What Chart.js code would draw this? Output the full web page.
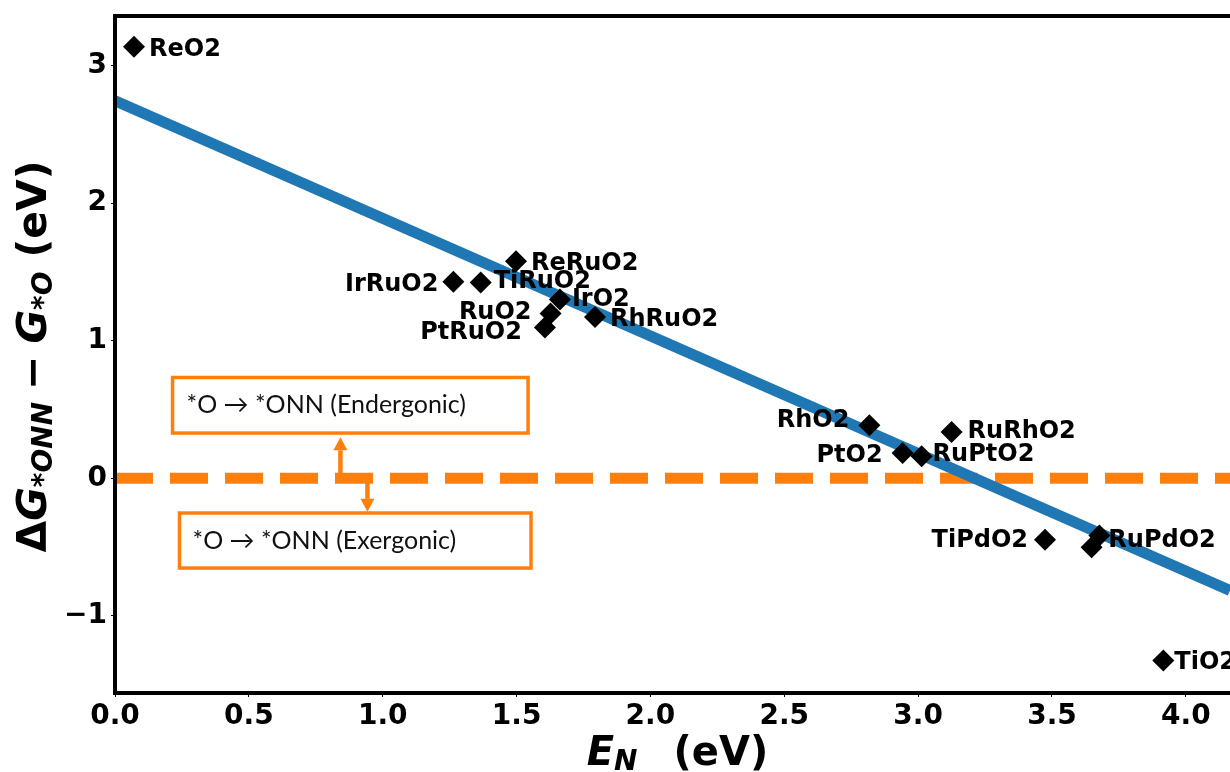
<!DOCTYPE html>
<html>
<head>
<meta charset="utf-8">
<script src="https://cdn.jsdelivr.net/npm/chart.js@4"></script>
<style>
  html, body { margin: 0; padding: 0; background: #fff; }
  #wrap { width: 1230px; height: 772px; }
</style>
</head>
<body>
<div id="wrap"><canvas id="grafico" width="1230" height="772"></canvas></div>
<script>
// dados
const materiais = ['ReO2', 'ReRuO2', 'IrRuO2', 'TiRuO2', 'IrO2', 'RuO2', 'PtRuO2', 'RhRuO2',
  'RhO2', 'RuRhO2', 'PtO2', 'RuPtO2', 'TiPdO2', 'RuPdO2', '', 'TiO2'];
const energiaN = [0.071, 1.498, 1.264, 1.366, 1.662, 1.627, 1.606, 1.793,
  2.818, 3.125, 2.942, 3.013, 3.474, 3.677, 3.648, 3.916];
const deltaG = [3.137, 1.578, 1.428, 1.423, 1.30, 1.198, 1.096, 1.173,
  0.385, 0.337, 0.184, 0.16, -0.446, -0.415, -0.50, -1.324];

const ajusteX = [0, 4.165];
const ajusteY = [2.744, -0.815];
const zeroX = [0, 4.165];
const zeroY = [0, 0];

const ticksX = [0, 0.5, 1, 1.5, 2, 2.5, 3, 3.5, 4];
const ticksY = [-1, 0, 1, 2, 3];

const notas = ['*O \u2192 *ONN (Endergonic)', '*O \u2192 *ONN (Exergonic)'];

const laranja = '#ff7f0e';
const azul = '#1f77b4';
const fonteBase = '"DejaVu Sans", sans-serif';

// posição dos rótulos em px relativo ao ponto (dx < 0: texto à esquerda)
const deslocRotulo = {
  ReO2: [15, 1], ReRuO2: [15, 0], IrRuO2: [-15, 0], TiRuO2: [13, -3], IrO2: [12, -2],
  RuO2: [-19, -3], PtRuO2: [-23, 3], RhRuO2: [15, 0], RhO2: [-20, -7], RuRhO2: [16, -3],
  PtO2: [-20, 0], RuPtO2: [11, -4], TiPdO2: [-17, -1], RuPdO2: [9, 3], TiO2: [11, 0],
};

// caixas e setas em unidades de dados
const caixas = [
  { x0: 0.215, x1: 1.543, y0: 0.733, y1: 0.329, dx: 14 },
  { x0: 0.241, x1: 1.554, y0: -0.252, y1: -0.652, dx: 13 },
];
const setas = [
  { x: 0.842, de: 0, ate: 0.298 },
  { x: 0.943, de: 0, ate: -0.243 },
];

function textoRico(ctx, partes, cx, base) {
  let total = 0;
  partes.forEach(p => {
    ctx.font = p.f;
    p.w = ctx.measureText(p.t).width + (p.gap || 0);
    total += p.w;
  });
  let pos = cx - total / 2;
  partes.forEach(p => {
    ctx.font = p.f;
    ctx.fillText(p.t, pos, base + (p.dy || 0));
    pos += p.w;
  });
}

const anotacoes = {
  id: 'anotacoes',
  beforeDatasetsDraw(chart) {
    const { ctx, scales: { x, y } } = chart;
    ctx.save();

    // caixas de texto
    caixas.forEach((c, i) => {
      const x0 = x.getPixelForValue(c.x0), x1 = x.getPixelForValue(c.x1);
      const y0 = y.getPixelForValue(c.y0), y1 = y.getPixelForValue(c.y1);
      ctx.fillStyle = '#fff';
      ctx.fillRect(x0, y0, x1 - x0, y1 - y0);
      ctx.strokeStyle = laranja;
      ctx.lineWidth = 3.5;
      ctx.strokeRect(x0, y0, x1 - x0, y1 - y0);
      ctx.fillStyle = '#111';
      ctx.font = '25px Lato, "Open Sans", sans-serif';
      ctx.textBaseline = 'middle';
      ctx.textAlign = 'left';
      ctx.fillText(notas[i], x0 + c.dx, (y0 + y1) / 2);
    });

    // setas
    setas.forEach(s => {
      const px = x.getPixelForValue(s.x);
      const p0 = y.getPixelForValue(s.de), p1 = y.getPixelForValue(s.ate);
      const dir = p1 < p0 ? 1 : -1;
      const baseCabeca = p1 + dir * 13;
      ctx.strokeStyle = laranja;
      ctx.fillStyle = laranja;
      ctx.lineWidth = 4.5;
      ctx.beginPath();
      ctx.moveTo(px, p0);
      ctx.lineTo(px, baseCabeca);
      ctx.stroke();
      ctx.beginPath();
      ctx.moveTo(px, p1);
      ctx.lineTo(px - 7, baseCabeca);
      ctx.lineTo(px + 7, baseCabeca);
      ctx.closePath();
      ctx.fill();
    });
    ctx.restore();
  },
  afterDatasetsDraw(chart) {
    const { ctx, scales: { x, y } } = chart;
    ctx.save();
    // rótulos dos pontos
    ctx.fillStyle = '#000';
    ctx.font = 'bold 24px ' + fonteBase;
    ctx.textBaseline = 'alphabetic';
    materiais.forEach((m, i) => {
      if (!m) return;
      const [dx, dy] = deslocRotulo[m] || [12, 0];
      const px = x.getPixelForValue(energiaN[i]);
      const py = y.getPixelForValue(deltaG[i]);
      ctx.textAlign = dx < 0 ? 'right' : 'left';
      ctx.fillText(m, px + dx, py + dy + 24 * 0.3645);
    });
    ctx.restore();
  },
  afterDraw(chart) {
    const { ctx, chartArea: a } = chart;
    ctx.save();
    // moldura
    ctx.strokeStyle = '#000';
    ctx.lineWidth = 4;
    ctx.beginPath();
    ctx.moveTo(a.right + 2, a.top);
    ctx.lineTo(a.left, a.top);
    ctx.lineTo(a.left, a.bottom);
    ctx.lineTo(a.right + 2, a.bottom);
    ctx.stroke();

    // títulos dos eixos
    ctx.fillStyle = '#000';
    ctx.textAlign = 'left';
    ctx.textBaseline = 'alphabetic';
    const ib = 'italic bold 41px ' + fonteBase;
    const ibs = 'italic bold 28px ' + fonteBase;
    const b = 'bold 41px ' + fonteBase;
    textoRico(ctx, [
      { t: 'E', f: 'italic bold 40px ' + fonteBase },
      { t: 'N', f: ibs, dy: 5, gap: 36 },
      { t: '(eV)', f: 'bold 40px ' + fonteBase },
    ], (a.left + a.right) / 2 + 5, 765);

    ctx.translate(46, (a.top + a.bottom) / 2 + 2);
    ctx.rotate(-Math.PI / 2);
    textoRico(ctx, [
      { t: '\u0394', f: b },
      { t: 'G', f: ib },
      { t: '*ONN', f: ibs, dy: 6, gap: 12 },
      { t: '\u2212', f: b, gap: 12 },
      { t: 'G', f: ib },
      { t: '*O', f: ibs, dy: 6, gap: 14 },
      { t: '(eV)', f: b },
    ], 0, 0);
    ctx.restore();
  }
};

const fonteTick = { family: fonteBase, weight: 'bold', size: 28 };

new Chart(document.getElementById('grafico'), {
  type: 'scatter',
  data: {
    datasets: [
      {
        label: 'materiais',
        data: energiaN.map((v, i) => ({ x: v, y: deltaG[i] })),
        pointStyle: 'rectRot',
        pointRadius: 11,
        pointHoverRadius: 11,
        backgroundColor: '#000',
        borderColor: '#000',
        borderWidth: 0,
        order: 0,
      },
      {
        type: 'line',
        label: 'ajuste',
        data: ajusteX.map((v, i) => ({ x: v, y: ajusteY[i] })),
        borderColor: azul,
        borderWidth: 11,
        borderCapStyle: 'butt',
        pointRadius: 0,
        fill: false,
        order: 1,
      },
      {
        type: 'line',
        label: 'zero',
        data: zeroX.map((v, i) => ({ x: v, y: zeroY[i] })),
        borderColor: laranja,
        borderWidth: 11,
        borderDash: [38, 17],
        borderCapStyle: 'butt',
        pointRadius: 0,
        fill: false,
        order: 2,
      },
    ],
  },
  options: {
    responsive: false,
    animation: false,
    events: [],
    layout: { autoPadding: false, padding: { top: 16, left: 0, right: 0, bottom: 0 } },
    plugins: { legend: { display: false }, tooltip: { enabled: false } },
    scales: {
      x: {
        type: 'linear',
        min: 0,
        max: 4.165,
        afterBuildTicks: s => { s.ticks = ticksX.map(v => ({ value: v })); },
        afterFit: s => { s.height = 79; s.paddingLeft = 0; s.paddingRight = 0; },
        ticks: { callback: v => v.toFixed(1), font: fonteTick, color: '#000', padding: 3, maxRotation: 0, autoSkip: false },
        grid: { drawOnChartArea: false, tickLength: 4, color: '#000', lineWidth: 1 },
        border: { display: false },
      },
      y: {
        type: 'linear',
        min: -1.56,
        max: 3.36,
        afterBuildTicks: s => { s.ticks = ticksY.map(v => ({ value: v })); },
        afterFit: s => { s.width = 115; s.paddingTop = 0; s.paddingBottom = 0; },
        ticks: { callback: v => (v < 0 ? '\u2212' + Math.abs(v) : String(v)), font: fonteTick, color: '#000', padding: 4, autoSkip: false },
        grid: { drawOnChartArea: false, tickLength: 4, color: '#000', lineWidth: 1 },
        border: { display: false },
      },
    },
  },
  plugins: [anotacoes],
});
</script>
</body>
</html>
